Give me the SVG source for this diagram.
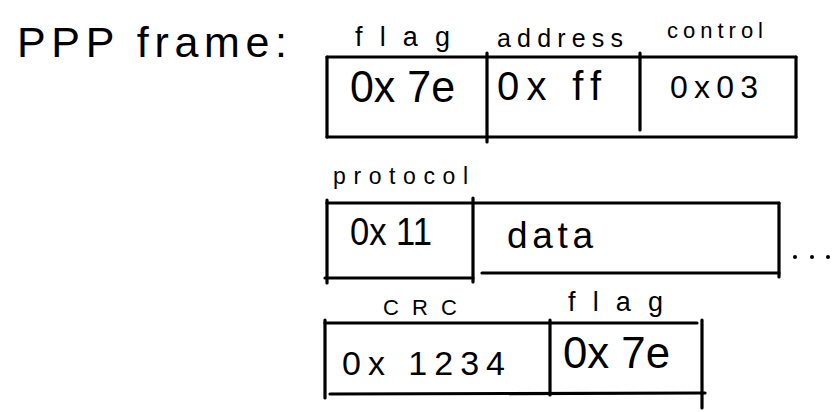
<svg xmlns="http://www.w3.org/2000/svg" width="833" height="412" viewBox="0 0 833 412">
<style>
.ln{stroke:#000;stroke-width:3.2;stroke-linecap:round;fill:none}
text{font-family:"Liberation Sans","DejaVu Sans",sans-serif;fill:#000}
.lab{font-size:27px}
.val{font-size:44px}
</style>
<rect width="833" height="412" fill="#fff"/>
<g id="title">
<text x="17" y="57" font-size="43" textLength="270" lengthAdjust="spacing">PPP frame:</text>
</g>
<g id="outlines">
<line class="ln" x1="327" y1="57" x2="796" y2="57"/>
<line class="ln" x1="327" y1="137" x2="796" y2="137"/>
<line class="ln" x1="327" y1="57" x2="327" y2="137"/>
<line class="ln" x1="796" y1="57" x2="796" y2="137"/>
<line class="ln" x1="487" y1="53" x2="487" y2="142"/>
<line class="ln" x1="640" y1="53" x2="640" y2="130"/>
<line class="ln" x1="327" y1="200" x2="327" y2="283"/>
<line class="ln" x1="327" y1="203" x2="779" y2="203"/>
<line class="ln" x1="325" y1="278" x2="473" y2="278"/>
<line class="ln" x1="473" y1="198" x2="473" y2="282"/>
<line class="ln" x1="779" y1="203" x2="779" y2="277"/>
<line class="ln" x1="482" y1="273" x2="779" y2="273"/>
<line class="ln" x1="325" y1="320" x2="325" y2="398"/>
<line class="ln" x1="325" y1="323" x2="697" y2="323"/>
<line class="ln" x1="330" y1="394" x2="705" y2="393"/>
<line class="ln" x1="550" y1="320" x2="550" y2="395"/>
<line class="ln" x1="702" y1="320" x2="702" y2="408"/>
</g>
<g id="field-flag1">
<text class="lab" x="355" y="46" textLength="95" lengthAdjust="spacing">flag</text>
<text class="val" x="350" y="102" textLength="105" lengthAdjust="spacingAndGlyphs">0x 7e</text>
</g>
<g id="field-address">
<text x="497" y="47" font-size="25" textLength="126" lengthAdjust="spacing">address</text>
<text x="497" y="100" font-size="40" textLength="104" lengthAdjust="spacing">0x ff</text>
</g>
<g id="field-control">
<text x="667" y="38" font-size="22" textLength="96" lengthAdjust="spacing">control</text>
<text x="670" y="98" font-size="32" textLength="88" lengthAdjust="spacing">0x03</text>
</g>
<g id="field-protocol">
<text x="333" y="184" font-size="23" textLength="135" lengthAdjust="spacing">protocol</text>
<text x="350" y="245" font-size="38" textLength="82" lengthAdjust="spacingAndGlyphs">0x 11</text>
</g>
<g id="field-data">
<text x="507" y="248" font-size="37" textLength="86" lengthAdjust="spacing">data</text>
<circle cx="795" cy="257" r="2"/>
<circle cx="812" cy="257" r="2"/>
<circle cx="828" cy="257" r="2"/>
</g>
<g id="field-crc">
<text x="383" y="315" font-size="22" textLength="74" lengthAdjust="spacing">CRC</text>
<text x="342" y="375" font-size="34" textLength="163" lengthAdjust="spacing">0x 1234</text>
</g>
<g id="field-flag2">
<text class="lab" x="568" y="311" textLength="95" lengthAdjust="spacing">flag</text>
<text class="val" x="563" y="368" textLength="107" lengthAdjust="spacingAndGlyphs">0x 7e</text>
</g>
</svg>
